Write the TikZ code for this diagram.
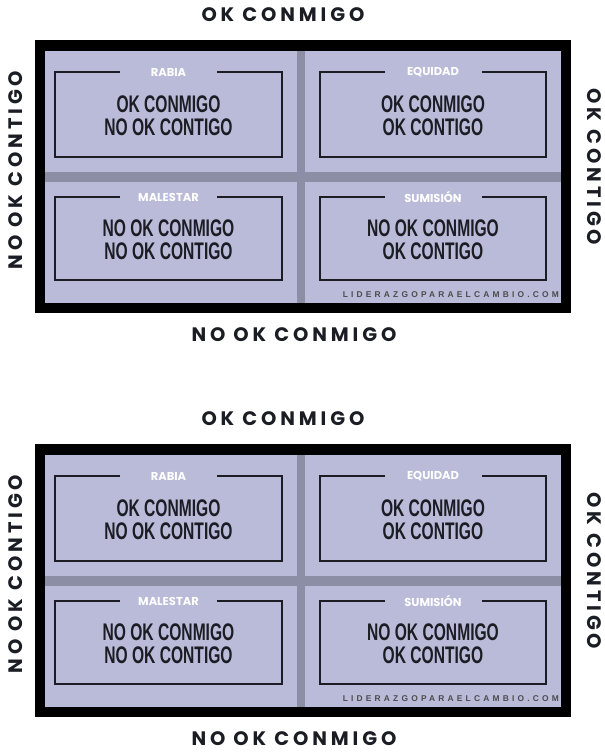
\documentclass[tikz,border=0pt]{standalone}
\usepackage{fontspec}
\setmainfont{Liberation Sans}
\newfontfamily\ejefont[LetterSpace=20]{Poppins}
\newfontfamily\cajafont[FakeStretch=0.65]{Liberation Sans}
\newfontfamily\tagfont{Poppins}
\newfontfamily\webfont[LetterSpace=38]{Liberation Sans}
\definecolor{lavanda}{RGB}{185,187,216}
\definecolor{cruz}{RGB}{140,142,166}
\definecolor{tinta}{RGB}{28,28,36}
\tikzset{
  eje/.style={font=\ejefont\bfseries\fontsize{19.5}{22}\selectfont, text=tinta, inner sep=0pt},
  caja/.style={draw=tinta, line width=1.2pt},
  frase/.style={font=\cajafont\bfseries\fontsize{24}{22.5}\selectfont, align=center, text=tinta, inner sep=0pt},
  etiqueta/.style={fill=lavanda, minimum width=97pt, text=white, font=\tagfont\bfseries\fontsize{11.5}{12}\selectfont, inner sep=1pt},
  web/.style={font=\webfont\bfseries\fontsize{8.4}{10}\selectfont, text=black!70, inner sep=0pt, anchor=base east}
}
\begin{document}
\begin{tikzpicture}[x=1pt,y=-1pt]
\useasboundingbox (0,0) rectangle (605,753);
\foreach \c/\dy in {a/0,b/404}
{
\begin{scope}[shift={(0,\dy)}]
\fill[black] (35,40) rectangle (571,313);
\fill[cruz] (45,51) rectangle (561,303);
\fill[lavanda] (45,51) rectangle (297,172);
\fill[lavanda] (305,51) rectangle (561,172);
\fill[lavanda] (45,182) rectangle (297,303);
\fill[lavanda] (305,182) rectangle (561,303);
\foreach \n/\xa/\ya/\xb/\yb/\tag/\uno/\dos in
  {rabia/55/72/282/157/RABIA/OK CONMIGO/NO OK CONTIGO,
   equidad/320/72/546/157/EQUIDAD/OK CONMIGO/OK CONTIGO,
   malestar/55/197/282/280/MALESTAR/NO OK CONMIGO/NO OK CONTIGO,
   sumision/320/197/546/280/SUMISIÓN/NO OK CONMIGO/OK CONTIGO}
{
\draw[caja] (\xa,\ya) rectangle (\xb,\yb);
\node[etiqueta] (\c-\n-tag) at ({(\xa+\xb)/2},\ya) {\tag};
\node[frase] (\c-\n) at ({(\xa+\xb)/2},{(\ya+\yb)/2+1}) {\uno\\\dos};
}
\node[web] (\c-web) at (559,297) {LIDERAZGOPARAELCAMBIO.COM};
\node[eje] (\c-arriba) at (283,15) {OK CONMIGO};
\node[eje] (\c-abajo) at (294,335) {NO OK CONMIGO};
\node[eje, rotate=90] (\c-izq) at (16,170) {NO OK CONTIGO};
\node[eje, rotate=-90] (\c-der) at (594,167) {OK CONTIGO};
\end{scope}
}
\end{tikzpicture}
\end{document}
